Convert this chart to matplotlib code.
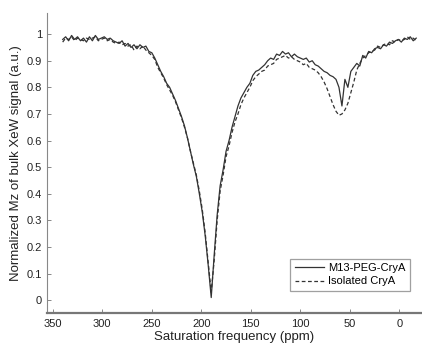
import numpy as np
import matplotlib
matplotlib.use("Agg")
import matplotlib.pyplot as plt

plt.rcParams['font.family'] = ['Liberation Sans', 'DejaVu Sans']

# saturation frequency grid (ppm), 340 down to -17
freq = np.arange(340, -18, -3)

# M13-PEG-CryA (solid)
m13 = [0.98, 0.99, 0.975, 0.995, 0.98, 0.99, 0.975, 0.985, 0.97, 0.99,
       0.975, 0.995, 0.98, 0.985, 0.99, 0.98, 0.985, 0.975, 0.97, 0.965,
       0.975, 0.955, 0.965, 0.95, 0.96, 0.945, 0.96, 0.95, 0.955, 0.935,
       0.93, 0.91, 0.885, 0.86, 0.84, 0.815, 0.80, 0.775, 0.75, 0.72,
       0.69, 0.655, 0.61, 0.56, 0.51, 0.465, 0.40, 0.33, 0.24, 0.13,
       0.01, 0.17, 0.32, 0.43, 0.49, 0.56, 0.60, 0.65, 0.69, 0.73,
       0.76, 0.78, 0.80, 0.815, 0.845, 0.86, 0.865, 0.875, 0.885, 0.90,
       0.91, 0.905, 0.925, 0.92, 0.935, 0.925, 0.93, 0.915, 0.925, 0.915,
       0.91, 0.905, 0.91, 0.895, 0.90, 0.885, 0.88, 0.87, 0.86, 0.855,
       0.845, 0.84, 0.83, 0.80, 0.73, 0.83, 0.80, 0.86, 0.875, 0.89,
       0.88, 0.92, 0.91, 0.935, 0.93, 0.945, 0.95, 0.945, 0.96, 0.955,
       0.97, 0.965, 0.975, 0.98, 0.97, 0.985, 0.98, 0.99, 0.975, 0.985]

# Isolated CryA (dashed)
cry = [0.97, 0.985, 0.98, 0.99, 0.975, 0.985, 0.98, 0.975, 0.985, 0.98,
       0.985, 0.99, 0.975, 0.98, 0.985, 0.975, 0.98, 0.97, 0.965, 0.97,
       0.96, 0.965, 0.955, 0.96, 0.94, 0.955, 0.945, 0.955, 0.94, 0.93,
       0.92, 0.905, 0.875, 0.855, 0.835, 0.81, 0.79, 0.77, 0.745, 0.715,
       0.685, 0.65, 0.61, 0.56, 0.515, 0.47, 0.41, 0.34, 0.25, 0.14,
       0.03, 0.15, 0.30, 0.41, 0.47, 0.54, 0.58, 0.63, 0.67, 0.70,
       0.735, 0.76, 0.78, 0.80, 0.825, 0.84, 0.85, 0.86, 0.865, 0.88,
       0.885, 0.89, 0.905, 0.91, 0.915, 0.92, 0.91, 0.915, 0.905, 0.90,
       0.895, 0.885, 0.89, 0.875, 0.87, 0.865, 0.855, 0.84, 0.82, 0.795,
       0.765, 0.735, 0.71, 0.695, 0.70, 0.715, 0.74, 0.78, 0.82, 0.865,
       0.89, 0.91, 0.92, 0.93, 0.935, 0.94, 0.955, 0.95, 0.96, 0.965,
       0.96, 0.975, 0.97, 0.98, 0.975, 0.98, 0.99, 0.98, 0.985, 0.975]

xticks = [350, 300, 250, 200, 150, 100, 50, 0]
yticks = [0, 0.1, 0.2, 0.3, 0.4, 0.5, 0.6, 0.7, 0.8, 0.9, 1]
ylabels = ['0', '0.1', '0.2', '0.3', '0.4', '0.5', '0.6', '0.7', '0.8', '0.9', '1']

fig = plt.figure(figsize=(4.22, 3.47), dpi=100)
ax = fig.add_axes([0.111, 0.098, 0.887, 0.865])

ax.plot(freq, m13, '-', color='#333333', lw=0.9, label='M13-PEG-CryA')
ax.plot(freq, cry, '--', color='#333333', lw=0.9, dashes=(3, 2), label='Isolated CryA')

ax.set_xlim(356, -22)
ax.set_ylim(-0.048, 1.08)
ax.set_xticks(xticks)
ax.set_yticks(yticks)
ax.set_yticklabels(ylabels)

for s in ['top', 'right']:
    ax.spines[s].set_visible(False)
ax.spines['left'].set_color('#888888')
ax.spines['left'].set_linewidth(0.8)
ax.spines['bottom'].set_color('#777777')
ax.spines['bottom'].set_linewidth(1.6)
ax.tick_params(direction='in', length=3, width=0.7, color='#888888',
               labelsize=8, labelcolor='#222222')
ax.tick_params(axis='x', pad=4)

ax.set_xlabel('Saturation frequency (ppm)', fontsize=9.5, color='#222222', labelpad=2)
ax.set_ylabel('Normalized Mz of bulk XeW signal (a.u.)', fontsize=9.5, color='#222222', labelpad=3)

leg = ax.legend(loc='lower right', bbox_to_anchor=(0.985, 0.055), fontsize=8,
                fancybox=False, edgecolor='#888888', handlelength=2.6,
                borderpad=0.4, labelspacing=0.3, handletextpad=0.4)
leg.get_frame().set_linewidth(0.9)

fig.savefig('out.png', dpi=100)
